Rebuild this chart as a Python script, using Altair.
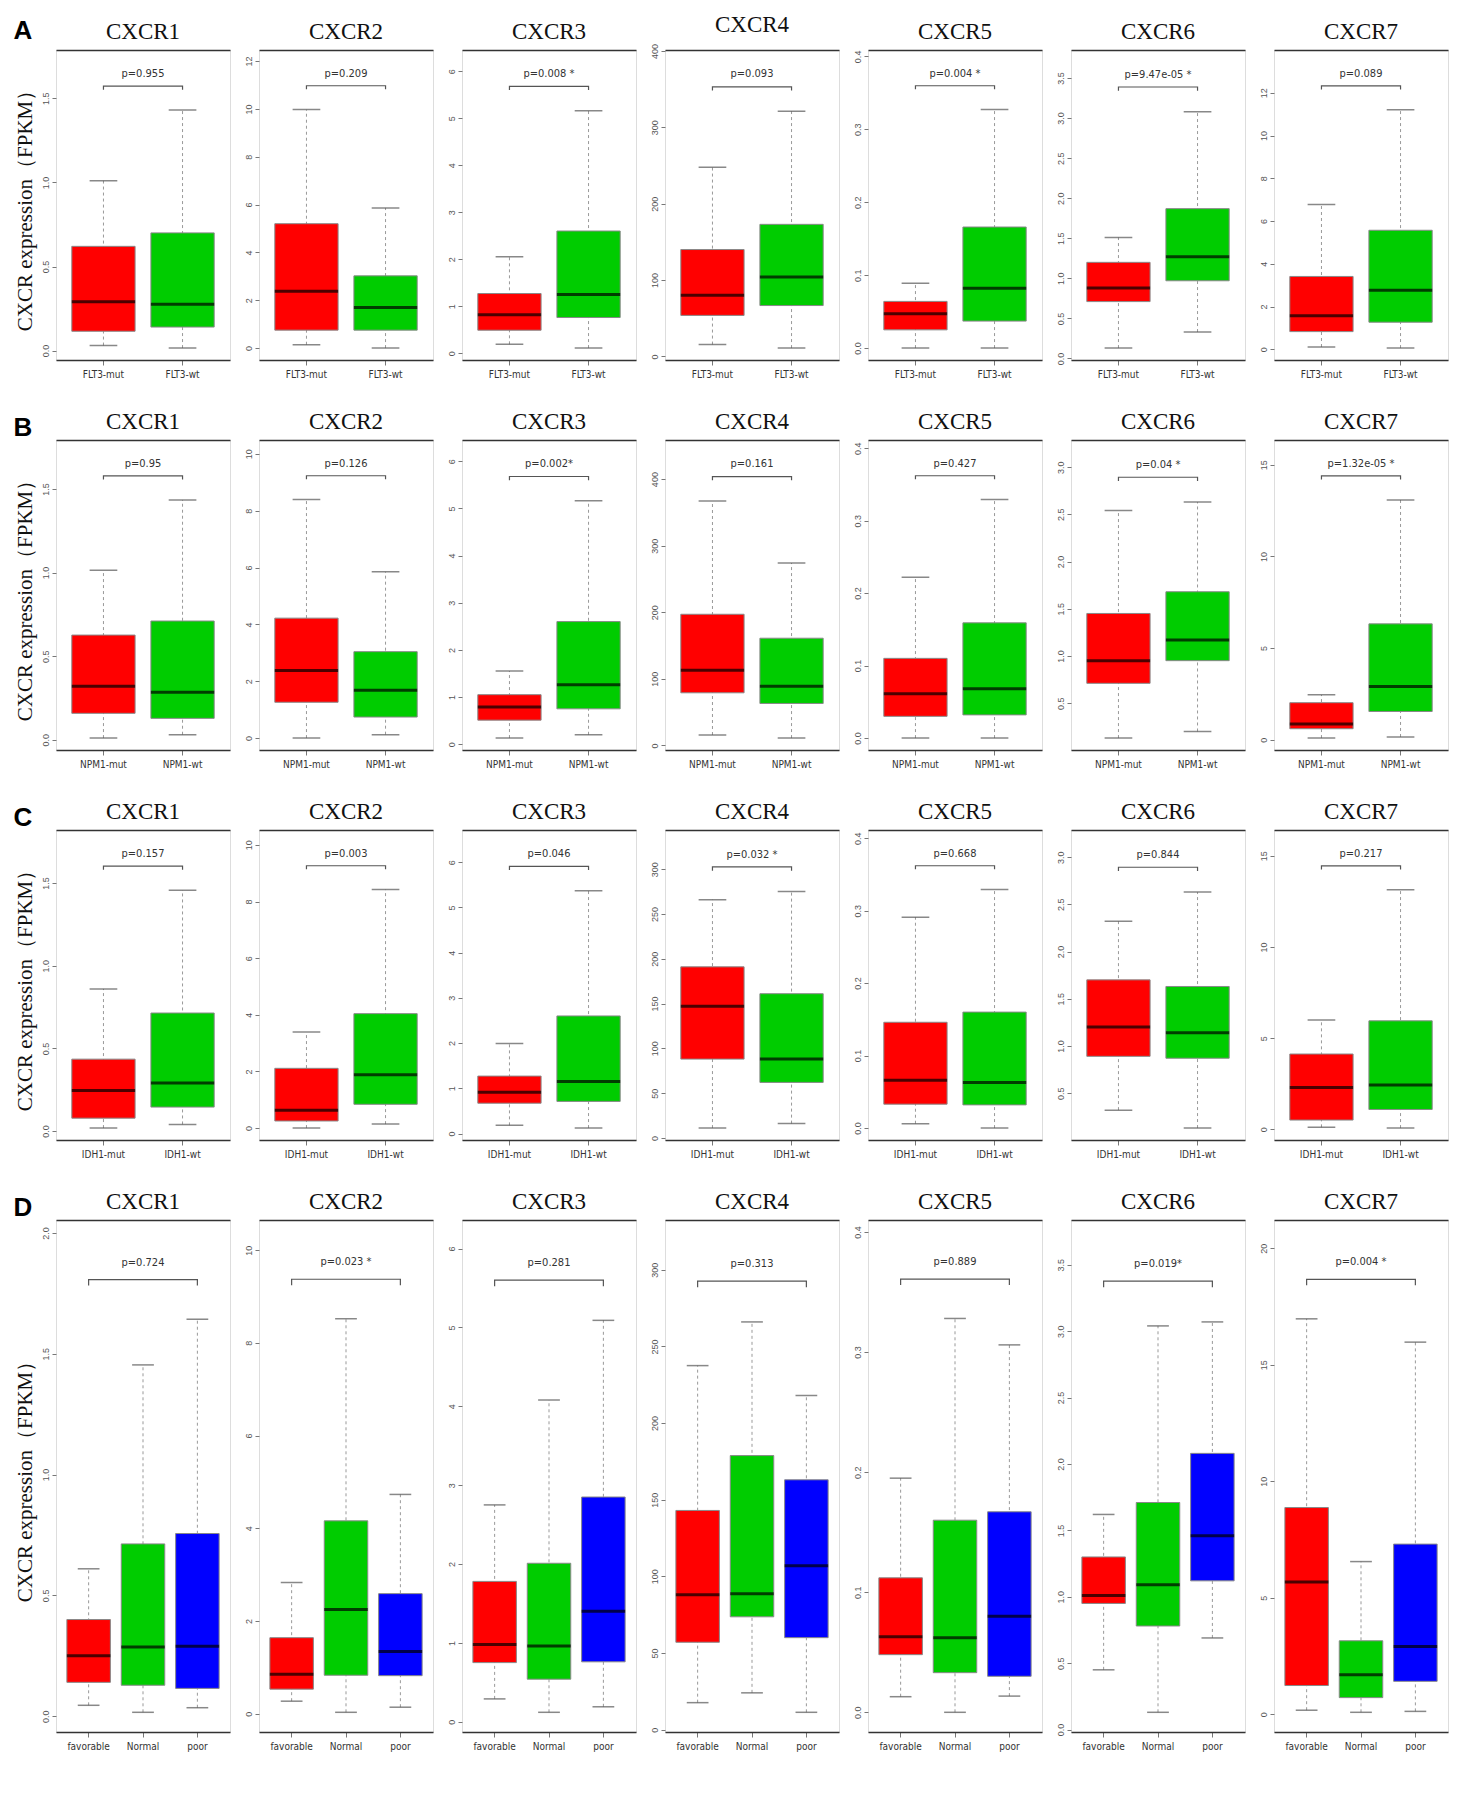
import altair as alt
import pandas as pd

genes = ["CXCR1", "CXCR2", "CXCR3", "CXCR4", "CXCR5", "CXCR6", "CXCR7"]

# ---------------- Row A : FLT3 ----------------
A_groups = ["FLT3-mut", "FLT3-wt"]
A_low  = [[0.03, 0.015], [0.14, 0.0], [0.19, 0.11], [15.6, 11], [0.0, 0.0], [0.13, 0.33], [0.11, 0.06]]
A_q1   = [[0.115, 0.14], [0.75, 0.75], [0.49, 0.76], [53.8, 66.7], [0.025, 0.037], [0.71, 0.97], [0.83, 1.27]]
A_med  = [[0.29, 0.275], [2.38, 1.7], [0.82, 1.25], [80, 104], [0.047, 0.082], [0.88, 1.27], [1.57, 2.76]]
A_q3   = [[0.62, 0.70], [5.2, 3.02], [1.27, 2.6], [140, 173], [0.064, 0.166], [1.2, 1.87], [3.41, 5.57]]
A_high = [[1.01, 1.43], [9.97, 5.86], [2.05, 5.16], [247.6, 321], [0.089, 0.327], [1.51, 3.08], [6.78, 11.2]]
A_p = ["p=0.955", "p=0.209", "p=0.008 *", "p=0.093", "p=0.004 *", "p=9.47e-05 *", "p=0.089"]
A_ticks = [[0, 0.5, 1.0, 1.5], [0, 2, 4, 6, 8, 10, 12], [0, 1, 2, 3, 4, 5, 6], [0, 100, 200, 300, 400],
           [0.0, 0.1, 0.2, 0.3, 0.4], [0.0, 0.5, 1.0, 1.5, 2.0, 2.5, 3.0, 3.5], [0, 2, 4, 6, 8, 10, 12]]

# ---------------- Row B : NPM1 ----------------
B_groups = ["NPM1-mut", "NPM1-wt"]
B_low  = [[0.01, 0.03], [0.0, 0.12], [0.13, 0.2], [15.6, 11], [0.0, 0.0], [0.13, 0.20], [0.09, 0.15]]
B_q1   = [[0.158, 0.128], [1.26, 0.74], [0.51, 0.75], [79, 63], [0.030, 0.032], [0.71, 0.95], [0.6, 1.54]]
B_med  = [[0.32, 0.284], [2.38, 1.68], [0.79, 1.26], [113, 89], [0.061, 0.068], [0.95, 1.17], [0.86, 2.91]]
B_q3   = [[0.626, 0.71], [4.22, 3.04], [1.05, 2.6], [197, 161], [0.110, 0.159], [1.45, 1.68], [2.02, 6.32]]
B_high = [[1.014, 1.434], [8.39, 5.85], [1.55, 5.16], [367, 274], [0.222, 0.329], [2.54, 2.63], [2.45, 13.08]]
B_p = ["p=0.95", "p=0.126", "p=0.002*", "p=0.161", "p=0.427", "p=0.04 *", "p=1.32e-05 *"]
B_ticks = [[0, 0.5, 1.0, 1.5], [0, 2, 4, 6, 8, 10], [0, 1, 2, 3, 4, 5, 6], [0, 100, 200, 300, 400],
           [0.0, 0.1, 0.2, 0.3, 0.4], [0.5, 1.0, 1.5, 2.0, 2.5, 3.0], [0, 5, 10, 15]]

# ---------------- Row C : IDH1 ----------------
C_groups = ["IDH1-mut", "IDH1-wt"]
C_low  = [[0.018, 0.04], [0.0, 0.14], [0.18, 0.12], [11, 16], [0.006, 0.0], [0.32, 0.13], [0.11, 0.07]]
C_q1   = [[0.078, 0.145], [0.25, 0.84], [0.67, 0.71], [88, 62], [0.033, 0.032], [0.89, 0.87], [0.51, 1.09]]
C_med  = [[0.245, 0.29], [0.63, 1.88], [0.91, 1.15], [147, 88], [0.066, 0.063], [1.20, 1.14], [2.30, 2.43]]
C_q3   = [[0.435, 0.714], [2.11, 4.04], [1.27, 2.6], [191, 161], [0.146, 0.16], [1.70, 1.63], [4.13, 5.95]]
C_high = [[0.86, 1.457], [3.39, 8.42], [1.99, 5.37], [266, 275], [0.291, 0.329], [2.32, 2.63], [6.0, 13.13]]
C_p = ["p=0.157", "p=0.003", "p=0.046", "p=0.032 *", "p=0.668", "p=0.844", "p=0.217"]
C_ticks = [[0, 0.5, 1.0, 1.5], [0, 2, 4, 6, 8, 10], [0, 1, 2, 3, 4, 5, 6], [0, 50, 100, 150, 200, 250, 300],
           [0.0, 0.1, 0.2, 0.3, 0.4], [0.5, 1.0, 1.5, 2.0, 2.5, 3.0], [0, 5, 10, 15]]

# ---------------- Row D : risk ----------------
D_groups = ["favorable", "Normal", "poor"]
D_low  = [[0.045, 0.016, 0.035], [0.27, 0.03, 0.14], [0.29, 0.12, 0.19], [17.6, 24, 11.3],
          [0.013, 0.0, 0.0135], [0.45, 0.13, 0.69], [0.17, 0.08, 0.12]]
D_q1   = [[0.14, 0.128, 0.115], [0.53, 0.83, 0.82], [0.75, 0.54, 0.76], [57, 73.6, 60],
          [0.048, 0.033, 0.03], [0.95, 0.78, 1.12], [1.23, 0.71, 1.41]]
D_med  = [[0.25, 0.286, 0.289], [0.85, 2.25, 1.34], [0.98, 0.96, 1.40], [88, 88.7, 107],
          [0.063, 0.062, 0.08], [1.01, 1.09, 1.46], [5.67, 1.69, 2.9]]
D_q3   = [[0.40, 0.713, 0.756], [1.64, 4.16, 2.59], [1.78, 2.01, 2.85], [143, 178.8, 163],
          [0.112, 0.16, 0.167], [1.30, 1.71, 2.08], [8.87, 3.15, 7.3]]
D_high = [[0.61, 1.454, 1.643], [2.83, 8.52, 4.73], [2.75, 4.08, 5.09], [237.5, 266, 218],
          [0.195, 0.328, 0.306], [1.62, 3.04, 3.07], [16.97, 6.55, 15.97]]
D_p = ["p=0.724", "p=0.023 *", "p=0.281", "p=0.313", "p=0.889", "p=0.019*", "p=0.004 *"]
D_ticks = [[0, 0.5, 1.0, 1.5, 2.0], [0, 2, 4, 6, 8, 10], [0, 1, 2, 3, 4, 5, 6], [0, 50, 100, 150, 200, 250, 300],
           [0.0, 0.1, 0.2, 0.3, 0.4], [0.0, 0.5, 1.0, 1.5, 2.0, 2.5, 3.0, 3.5], [0, 5, 10, 15, 20]]

COLORS = ["#FF0000", "#00CC00", "#0000FF"]
YTITLE = "CXCR expression（FPKM）"
NARROW = "Liberation Sans Narrow, DejaVu Sans Condensed, Liberation Sans, sans-serif"
SERIF = "Liberation Serif, Times New Roman, serif"
W = 174


def panel(gene, groups, low, q1, med, q3, high, p, ticks, height, first):
    n = len(groups)
    df = pd.DataFrame({"group": groups, "low": low, "q1": q1, "med": med, "q3": q3, "high": high,
                       "fill": COLORS[:n]})
    ymax = max(high)
    ymin = min(low)
    top = 1.25 * ymax
    bottom = ymin - 0.04 * (top - ymin)
    step = W / (n - 0.2 + 0.4)
    boxw = 0.8 * step
    capw = (0.35 if n == 2 else 0.4) * step
    fmt = ".1f" if any(abs(t - round(t)) > 1e-9 for t in ticks) else "d"

    yscale = alt.Scale(domain=[bottom, top], nice=False, zero=False)
    yaxis = alt.Axis(values=ticks, format=fmt, labelAngle=270, labelAlign="center", labelBaseline="bottom",
                     labelFontSize=9, labelColor="#555", labelFont="Liberation Sans", tickSize=4,
                     tickColor="#777", domain=False, grid=False, labelPadding=2, labelOverlap=False,
                     titleFont=SERIF, titleFontSize=21, titleFontWeight="normal", titleColor="#111",
                     titlePadding=6)
    ytitle = YTITLE if first else None

    def Y(f):
        return alt.Y(f + ":Q", scale=yscale, axis=yaxis, title=ytitle)

    xscale = alt.Scale(domain=groups, paddingInner=0.2, paddingOuter=0.2)
    xaxis_bottom = alt.Axis(title=None, labelAngle=0, labelFont=NARROW, labelFontSize=10, labelColor="#333",
                            tickSize=5, tickColor="#777", domainColor="#333", domainWidth=1.5,
                            labelPadding=4, grid=False)
    xaxis_top = alt.Axis(orient="top", title=None, labels=False, ticks=False, domainColor="#333",
                         domainWidth=1.5, grid=False)

    def X(ax):
        return alt.X("group:N", sort=groups, scale=xscale, axis=ax)

    base = alt.Chart(df)
    whisk = base.mark_rule(color="#999", strokeDash=[3, 3], strokeWidth=1).encode(
        x=X(xaxis_bottom), y=Y("low"), y2="high:Q")
    box = base.mark_bar(stroke="#888", strokeWidth=1, size=boxw).encode(
        x=X(None), y=Y("q1"), y2="q3:Q", color=alt.Color("fill:N", scale=None, legend=None))
    cap_lo = base.mark_tick(color="#555", size=capw, thickness=1.5).encode(x=X(None), y=Y("low"))
    cap_hi = base.mark_tick(color="#555", size=capw, thickness=1.5).encode(x=X(None), y=Y("high"))
    median = base.mark_tick(color="black", size=boxw, thickness=3).encode(x=X(None), y=Y("med"))

    yb = 1.1 * ymax
    d = 0.012 * top
    br = pd.DataFrame({"group": [groups[0], groups[0], groups[-1], groups[-1]],
                       "yb": [yb - d, yb, yb, yb - d], "ord": [0, 1, 2, 3]})
    bracket = alt.Chart(br).mark_line(color="#555", strokeWidth=1.2).encode(
        x=X(xaxis_top), y=Y("yb"), order="ord:Q")
    tx = pd.DataFrame({"label": [p], "yt": [1.13 * ymax]})
    ptext = alt.Chart(tx).mark_text(font=NARROW, fontSize=11, color="#333", baseline="bottom").encode(
        x=alt.value(W / 2), y=Y("yt"), text="label:N")

    return alt.layer(whisk, box, cap_lo, cap_hi, median, bracket, ptext).resolve_axis(
        x="independent").properties(
        width=W, height=height,
        title=alt.TitleParams(gene, font=SERIF, fontSize=23, fontWeight="normal", color="#111", offset=6))


def row(letter, groups, LOW, Q1, MED, Q3, HIGH, P, TICKS, height):
    panels = [panel(genes[i], groups, LOW[i], Q1[i], MED[i], Q3[i], HIGH[i], P[i], TICKS[i], height, i == 0)
              for i in range(7)]
    return alt.hconcat(*panels, spacing=12,
                       title=alt.TitleParams(letter, anchor="start", font="Liberation Sans", fontSize=26,
                                             fontWeight="bold", color="black", offset=-30))


chart = alt.vconcat(
    row("A", A_groups, A_low, A_q1, A_med, A_q3, A_high, A_p, A_ticks, 310),
    row("B", B_groups, B_low, B_q1, B_med, B_q3, B_high, B_p, B_ticks, 310),
    row("C", C_groups, C_low, C_q1, C_med, C_q3, C_high, C_p, C_ticks, 310),
    row("D", D_groups, D_low, D_q1, D_med, D_q3, D_high, D_p, D_ticks, 512),
    spacing=30,
).configure_view(stroke="#9a9a9a", strokeWidth=1).configure(background="white")

chart.save("out.html", embed_options={"renderer": "svg", "actions": False})
